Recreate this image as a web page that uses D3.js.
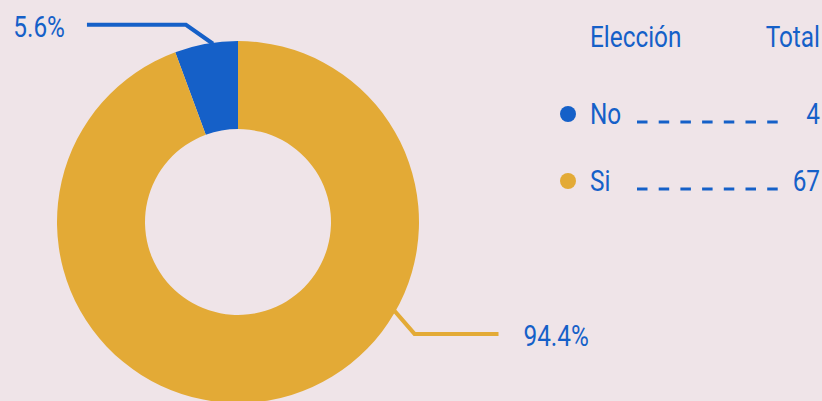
<!DOCTYPE html>
<html>
<head>
<meta charset="utf-8">
<script src="https://cdn.jsdelivr.net/npm/d3@7"></script>
<style>
  html, body { margin: 0; padding: 0; background: #EFE4E8; overflow: hidden; }
  svg { display: block; }
  text { font-family: Roboto, "Liberation Sans", sans-serif; fill: #1560C8; }
</style>
</head>
<body>
<svg id="chart" width="822" height="401"></svg>
<script>
// ---- data ----
const categories = ["No", "Si"];
const totals = [4, 67];
const colors = ["#1560C8", "#E3AA36"];
const legendHeaders = ["Elección", "Total"];

// ---- layout ----
const W = 822, H = 401;
const cx = 238, cy = 222, rOuter = 181, rInner = 93;
const labelAngleDeg = { No: -8, Si: 119.6 };   // where leader lines leave the ring
const fontSize = 29;
const narrow = 0.84; // horizontal squeeze to mimic a condensed face

const svg = d3.select("#chart");
svg.append("rect").attr("width", W).attr("height", H).attr("fill", "#EFE4E8");

// helper: condensed text
function ctext(parent, x, y, str, anchor) {
  const t = parent.append("g").attr("transform", `translate(${x},${y}) scale(${narrow},1)`)
    .append("text").attr("x", 0).attr("y", 0)
    .attr("font-size", fontSize)
    .attr("text-anchor", anchor || "start")
    .text(str);
  return t;
}

const data = categories.map((c, i) => ({ cat: c, value: totals[i] }));
const sum = d3.sum(totals);
const color = d3.scaleOrdinal().domain(categories).range(colors);

const pie = d3.pie().value(d => d.value).sort((a, b) => b.value - a.value);
const arc = d3.arc().innerRadius(rInner).outerRadius(rOuter);
const arcs = pie(data);

const g = svg.append("g").attr("transform", `translate(${cx},${cy})`);
g.selectAll("path.slice").data(arcs).join("path")
  .attr("class", "slice")
  .attr("d", arc)
  .attr("fill", d => color(d.data.cat));

// leader lines + labels
const fmt = v => (v / sum * 100).toFixed(1) + "%";
arcs.forEach(d => {
  const a = labelAngleDeg[d.data.cat] * Math.PI / 180;
  const r0 = rOuter - 1;
  const p0 = [Math.sin(a) * r0, -Math.cos(a) * r0];
  const right = Math.sin(a) > 0;
  const up = Math.cos(a) > 0;
  const p1 = [p0[0] + (right ? 20 : -27), p0[1] + (up ? -19 : 23)];
  const p2 = [p1[0] + (right ? 84 : -99), p1[1]];
  g.append("polyline")
    .attr("points", [p0, p1, p2].map(p => p.join(",")).join(" "))
    .attr("fill", "none")
    .attr("stroke", color(d.data.cat))
    .attr("stroke-width", 4);
  ctext(g, p2[0] + (right ? 25 : -22), p2[1] + 12, fmt(d.data.value), right ? "start" : "end");
});

// legend
const legX = 590, legRight = 820;
const lg = svg.append("g");
ctext(lg, legX, 47, legendHeaders[0], "start");
ctext(lg, legRight, 47, legendHeaders[1], "end");

const rowY = d3.scalePoint().domain(categories).range([114, 181]);
categories.forEach((c, i) => {
  const y = rowY(c);
  lg.append("circle").attr("cx", 568).attr("cy", y).attr("r", 8).attr("fill", color(c));
  ctext(lg, legX, y + 10, c, "start");
  ctext(lg, legRight, y + 10, String(totals[i]), "end");
  lg.append("line")
    .attr("x1", 637).attr("x2", 781)
    .attr("y1", y + 8).attr("y2", y + 8)
    .attr("stroke", "#1560C8").attr("stroke-width", 3)
    .attr("stroke-dasharray", "10.5,11.2");
});
</script>
</body>
</html>
